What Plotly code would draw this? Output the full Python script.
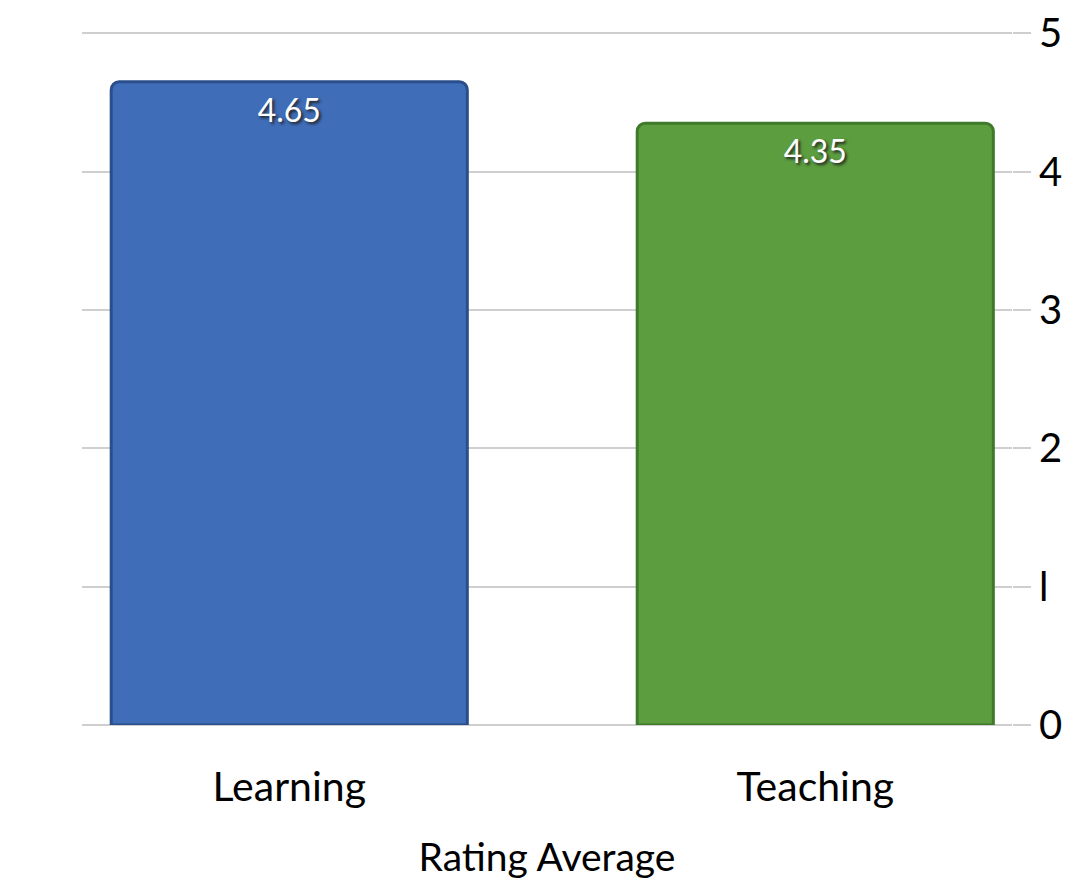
import plotly.graph_objects as go

categories = ["Learning", "Teaching"]
values = [4.65, 4.35]
labels = ["4.65", "4.35"]
bar_colors = ["#3F6DB8", "#5C9E3F"]
edge_colors = ["#2A4E8A", "#3F7A2A"]
y_ticks = [0, 1, 2, 3, 4, 5]
y_tick_text = ["0", "l", "2", "3", "4", "5"]

FONT = "Lato, 'Open Sans', sans-serif"

fig = go.Figure()
fig.add_trace(go.Bar(
    x=categories,
    y=values,
    width=0.677,
    text=labels,
    textposition="inside",
    insidetextanchor="end",
    textfont=dict(family=FONT, size=32, color="white", shadow="2px 2px 3px #222"),
    marker=dict(color=bar_colors, line=dict(color=edge_colors, width=3), cornerradius=8),
    hoverinfo="skip",
))

fig.update_layout(
    width=1076,
    height=887,
    paper_bgcolor="white",
    plot_bgcolor="white",
    margin=dict(l=74, r=72, t=24, b=170),
    showlegend=False,
    font=dict(family=FONT, color="black"),
)
fig.update_xaxes(
    range=[-0.394, 1.374],
    showgrid=False,
    showline=False,
    ticks="outside",
    ticklen=26,
    tickcolor="rgba(0,0,0,0)",
    tickfont=dict(size=41, family=FONT),
    title=dict(text="Rating Average", font=dict(size=39, family=FONT), standoff=34),
    automargin=False,
)
fig.update_yaxes(
    side="right",
    range=[0, 5.01],
    tickvals=y_ticks,
    ticktext=y_tick_text,
    showgrid=True,
    gridcolor="#CFCFCF",
    gridwidth=2,
    zeroline=True,
    zerolinecolor="#CFCFCF",
    zerolinewidth=2,
    ticks="outside",
    ticklen=18,
    tickwidth=2,
    tickcolor="#CFCFCF",
    tickfont=dict(size=40, family=FONT),
    automargin=False,
)

fig.write_html("out.html")
